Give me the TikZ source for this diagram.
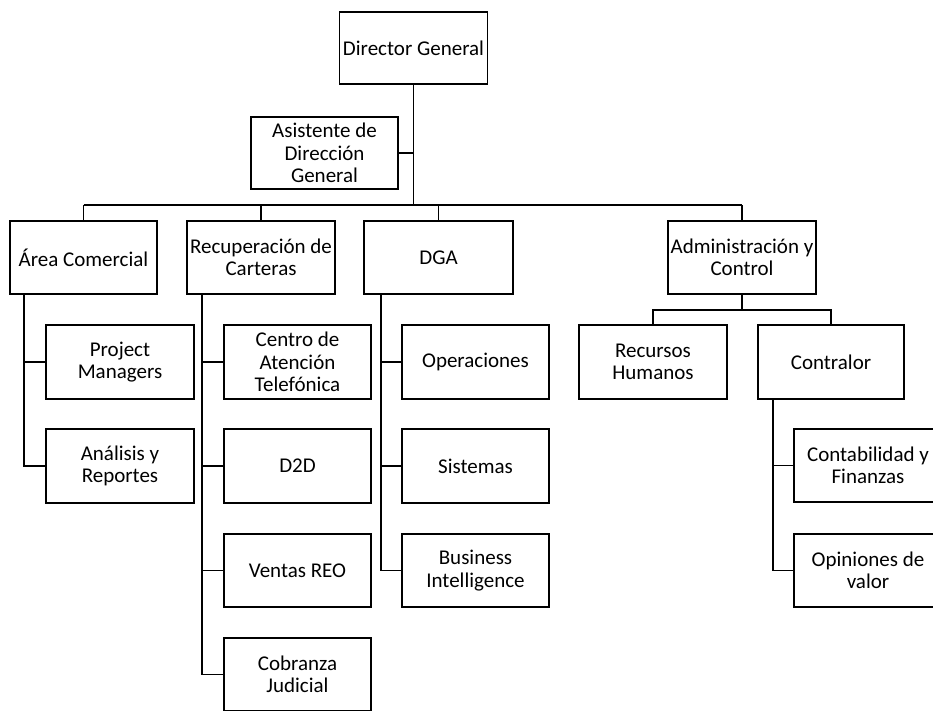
\documentclass[tikz,border=0pt]{standalone}
\usepackage{fontspec}
\setmainfont{Carlito}
\begin{document}
\begin{tikzpicture}[x=1pt,y=-1pt,
  box/.style={draw=black,line width=1.3pt,rectangle,minimum width=148pt,minimum height=73pt,inner xsep=0pt,inner ysep=0pt,align=center,font=\fontsize{21}{22.5}\selectfont},
  conn/.style={draw=black,line width=1.2pt}]
\useasboundingbox[clip] (0,0) rectangle (933,710);
\fill[white] (0,0) rectangle (933,710);
% top level
\node[box,minimum height=72pt] (dg) at (413.5,48) {Director General};
\node[box,minimum width=147pt,minimum height=72pt] (asis) at (324.5,153) {Asistente de\\Dirección\\General};
% second level
\node[box,minimum width=147pt] (com) at (83.5,257.5) {Área Comercial};
\node[box] (rec) at (261,257.5) {Recuperación de\\Carteras};
\node[box,minimum width=149pt] (dga) at (438.5,257.5) {DGA};
\node[box] (adm) at (742,257.5) {Administración y\\Control};
% Área Comercial children
\node[box,minimum height=74pt] (pm) at (120,362) {Project\\Managers};
\node[box,minimum height=74pt] (ar) at (120,466) {Análisis y\\Reportes};
% Recuperación children
\node[box,minimum width=147pt,minimum height=74pt] (cat) at (297.5,362) {Centro de\\Atención\\Telefónica};
\node[box,minimum width=147pt,minimum height=74pt] (d2d) at (297.5,466) {D2D};
\node[box,minimum width=147pt] (vreo) at (297.5,570.5) {Ventas REO};
\node[box,minimum width=147pt] (cj) at (297.5,674.5) {Cobranza\\Judicial};
% DGA children
\node[box,minimum width=147pt,minimum height=74pt] (op) at (475.5,362) {Operaciones};
\node[box,minimum width=147pt,minimum height=74pt] (sis) at (475.5,466) {Sistemas};
\node[box,minimum width=147pt] (bi) at (475.5,570.5) {Business\\Intelligence};
% Administración children
\node[box,minimum height=74pt] (rh) at (653,362) {Recursos\\Humanos};
\node[box,minimum width=146pt,minimum height=74pt] (con) at (831,362) {Contralor};
\node[box] (cyf) at (868,465.5) {Contabilidad y\\Finanzas};
\node[box] (odv) at (868,570.5) {Opiniones de\\valor};
% helper coordinates
\coordinate (busL) at (83.5,205);
\coordinate (busR) at (742,205);
\coordinate (admbus) at (742,310);
\coordinate (cx) at (24,0);
\coordinate (rx) at (202,0);
\coordinate (dx) at (381,0);
\coordinate (kx) at (773,0);
% connectors top
\draw[conn] (dg.south) -- (dg.south |- busL);
\draw[conn] (asis.east) -- (asis.east -| dg.south);
\draw[conn] (busL) -- (busR);
\draw[conn] (com.north) -- (com.north |- busL);
\draw[conn] (rec.north) -- (rec.north |- busL);
\draw[conn] (dga.north) -- (dga.north |- busL);
\draw[conn] (adm.north) -- (adm.north |- busR);
% Área Comercial
\draw[conn] (cx |- com.south) -- (cx |- ar.west) -- (ar.west);
\draw[conn] (cx |- pm.west) -- (pm.west);
% Recuperación
\draw[conn] (rx |- rec.south) -- (rx |- cj.west) -- (cj.west);
\draw[conn] (rx |- cat.west) -- (cat.west);
\draw[conn] (rx |- d2d.west) -- (d2d.west);
\draw[conn] (rx |- vreo.west) -- (vreo.west);
% DGA
\draw[conn] (dx |- dga.south) -- (dx |- bi.west) -- (bi.west);
\draw[conn] (dx |- op.west) -- (op.west);
\draw[conn] (dx |- sis.west) -- (sis.west);
% Administración
\draw[conn] (adm.south) -- (admbus);
\draw[conn] (rh.north) -- (rh.north |- admbus) -- (con.north |- admbus) -- (con.north);
% Contralor
\draw[conn] (kx |- con.south) -- (kx |- odv.west) -- (odv.west);
\draw[conn] (kx |- cyf.west) -- (cyf.west);
\end{tikzpicture}
\end{document}
